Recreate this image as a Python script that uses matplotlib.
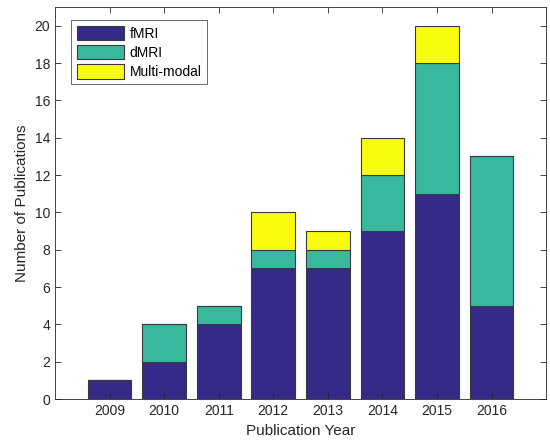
import matplotlib
matplotlib.use("Agg")
import matplotlib.pyplot as plt
import numpy as np

years = [2009, 2010, 2011, 2012, 2013, 2014, 2015, 2016]
fmri = [1, 2, 4, 7, 7, 9, 11, 5]
dmri = [0, 2, 1, 1, 1, 3, 7, 8]
multimodal = [0, 0, 0, 2, 1, 2, 2, 0]
series_labels = ["fMRI", "dMRI", "Multi-modal"]
colors = ["#352a87", "#38b99e", "#f9fb0e"]

plt.rcParams['font.family'] = ['Liberation Sans', 'DejaVu Sans']
fig = plt.figure(figsize=(5.5, 4.45), dpi=100)
ax = fig.add_axes([0.1, 0.103, 0.893, 0.881])

x = np.array(years)
bottom = np.zeros(len(years))
for vals, lab, c in zip([fmri, dmri, multimodal], series_labels, colors):
    v = np.array(vals, dtype=float)
    ax.bar(x, v, 0.8, bottom=bottom, color=c, edgecolor="#3a3a3a", linewidth=0.8, label=lab)
    bottom += v

ax.set_xlim(2008, 2017)
ax.set_ylim(0, 21)
ax.set_xticks(years)
ax.set_yticks(range(0, 21, 2))
ax.tick_params(direction="in", top=True, right=True, labelsize=10, colors="#262626", length=4, width=0.6)
for s in ax.spines.values():
    s.set_color("#262626")
    s.set_linewidth(0.6)
ax.set_xlabel("Publication Year", fontsize=11, color="#262626")
ax.set_ylabel("Number of Publications", fontsize=11, color="#262626")
leg = ax.legend(loc="upper left", bbox_to_anchor=(0.019, 0.985), fontsize=10, frameon=True, fancybox=False,
                edgecolor="#262626", handlelength=3.4, handleheight=1.25, borderpad=0.4, labelspacing=0.3,
                handletextpad=0.4)
leg.get_frame().set_linewidth(0.6)
fig.savefig("out.png", dpi=100)
